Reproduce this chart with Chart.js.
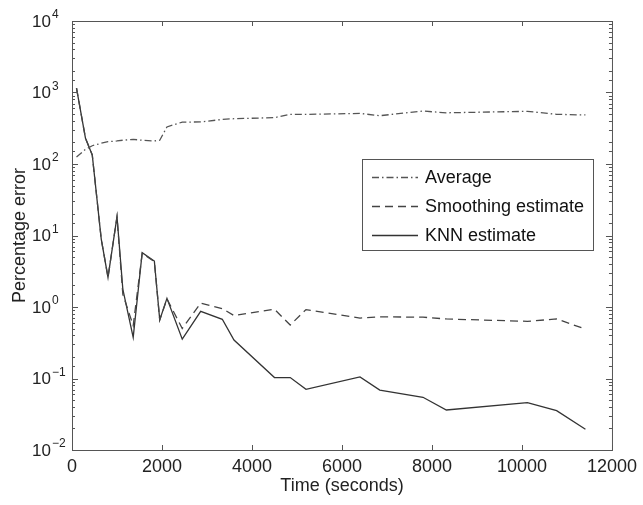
<!DOCTYPE html>
<html>
<head>
<meta charset="utf-8">
<script src="https://cdn.jsdelivr.net/npm/chart.js@4.4.1/dist/chart.umd.min.js"></script>
<style>
  html, body { margin: 0; padding: 0; background: #fff; }
  #wrap { width: 643px; height: 505px; position: relative; }
</style>
</head>
<body>
<div id="wrap"><canvas id="chart"></canvas></div>
<script>
// Data
const timeSec = [100, 300, 450, 650, 800, 1000, 1130, 1360, 1560, 1830, 1950, 2110, 2450,
  2860, 3340, 3600, 4500, 4850, 5200, 6400, 6840, 7800, 8320, 10120, 10770, 11410];
const averageErr = [125, 160, 180, 195, 205, 210, 215, 221, 215, 210, 215, 330, 385,
  388, 420, 430, 445, 495, 495, 510, 474, 550, 520, 545, 495, 485];
const smoothingErr = [1150, 229, 134, 8.9, 2.6, 18.3, 1.5, 0.55, 5.6, 4.3, 0.66, 1.3, 0.5,
  1.13, 0.95, 0.76, 0.93, 0.56, 0.92, 0.7, 0.73, 0.72, 0.68, 0.63, 0.68, 0.49];
const knnErr = [1150, 229, 134, 8.9, 2.6, 18.3, 1.77, 0.377, 5.75, 4.4, 0.66, 1.32, 0.355,
  0.87, 0.673, 0.345, 0.103, 0.103, 0.0706, 0.105, 0.069, 0.0546, 0.0363, 0.0459, 0.0355, 0.0195];

const seriesLabels = ['Average', 'Smoothing estimate', 'KNN estimate'];
const xTickStep = 2000;
const yExponents = [-2, -1, 0, 1, 2, 3, 4];

const FONT = 'Liberation Sans, Arial, Helvetica, sans-serif';

const toPoints = (ys) => timeSec.map((x, i) => ({ x, y: ys[i] }));

// Draws the matlab-style frame: box, inward ticks, 10^n labels and the legend
const framePlugin = {
  id: 'matlabFrame',
  afterDraw(chart) {
    const { ctx, chartArea: a, scales } = chart;
    const xs = scales.x, ys = scales.y;
    ctx.save();
    ctx.strokeStyle = '#555';
    ctx.lineWidth = 1;
    ctx.strokeRect(a.left + 0.5, a.top + 0.5, a.right - a.left, a.bottom - a.top);

    // x ticks on bottom and top
    ctx.beginPath();
    xs.ticks.forEach((t) => {
      const px = Math.round(xs.getPixelForValue(t.value)) + 0.5;
      ctx.moveTo(px, a.bottom); ctx.lineTo(px, a.bottom - 5);
      ctx.moveTo(px, a.top); ctx.lineTo(px, a.top + 5);
    });
    // y ticks (major + minor) on left and right
    ys.ticks.forEach((t) => {
      const py = Math.round(ys.getPixelForValue(t.value)) + 0.5;
      const major = Math.abs(Math.log10(t.value) - Math.round(Math.log10(t.value))) < 1e-6;
      const len = major ? 6 : 3;
      ctx.moveTo(a.left, py); ctx.lineTo(a.left + len, py);
      ctx.moveTo(a.right, py); ctx.lineTo(a.right - len, py);
    });
    ctx.stroke();

    // y tick labels as 10 with superscript exponent
    ctx.fillStyle = '#222';
    yExponents.forEach((e) => {
      const py = ys.getPixelForValue(Math.pow(10, e));
      ctx.font = '17px ' + FONT;
      ctx.textAlign = 'right';
      ctx.textBaseline = 'middle';
      ctx.fillText('10', 51, py + 1);
      ctx.font = '12px ' + FONT;
      ctx.textAlign = 'left';
      ctx.textBaseline = 'alphabetic';
      ctx.fillText(e < 0 ? '\u2212' + Math.abs(e) : String(e), 52, py - 3);
    });

    // legend box
    const box = { left: 362, top: 159, right: 593, bottom: 250 };
    ctx.fillStyle = '#fff';
    ctx.fillRect(box.left, box.top, box.right - box.left, box.bottom - box.top);
    ctx.strokeStyle = '#555';
    ctx.strokeRect(box.left + 0.5, box.top + 0.5, box.right - box.left, box.bottom - box.top);
    chart.data.datasets.forEach((ds, i) => {
      const cy = 177 + i * 29;
      ctx.beginPath();
      ctx.setLineDash(ds.borderDash || []);
      ctx.strokeStyle = ds.borderColor;
      ctx.lineWidth = ds.borderWidth;
      ctx.moveTo(372, cy + 0.5); ctx.lineTo(418, cy + 0.5);
      ctx.stroke();
      ctx.setLineDash([]);
      ctx.fillStyle = '#111';
      ctx.font = '18px ' + FONT;
      ctx.textAlign = 'left';
      ctx.textBaseline = 'middle';
      ctx.fillText(ds.label, 425, cy + 1);
    });
    ctx.restore();
  }
};

new Chart(document.getElementById('chart'), {
  type: 'line',
  data: {
    datasets: [
      { label: seriesLabels[0], data: toPoints(averageErr), borderColor: '#555', borderWidth: 1.3, borderDash: [7, 3, 1.5, 3] },
      { label: seriesLabels[1], data: toPoints(smoothingErr), borderColor: '#444', borderWidth: 1.3, borderDash: [8, 5] },
      { label: seriesLabels[2], data: toPoints(knnErr), borderColor: '#333', borderWidth: 1.3 }
    ]
  },
  options: {
    responsive: true,
    maintainAspectRatio: false,
    animation: false,
    layout: { padding: { left: 0, top: 21, right: 28, bottom: 0 } },
    elements: { point: { radius: 0 }, line: { tension: 0 } },
    plugins: { legend: { display: false }, tooltip: { enabled: false } },
    scales: {
      x: {
        type: 'linear',
        min: 0,
        max: 12000,
        grid: { display: false, drawTicks: false },
        border: { display: false },
        ticks: {
          stepSize: xTickStep,
          color: '#222',
          font: { family: FONT, size: 18 },
          padding: 6,
          maxRotation: 0,
          callback: (v) => String(v)
        },
        title: { display: true, text: 'Time (seconds)', color: '#222', font: { family: FONT, size: 18 }, padding: { top: 0, bottom: 8 } },
        afterFit: (s) => { s.height = 55; }
      },
      y: {
        type: 'logarithmic',
        min: 0.01,
        max: 10000,
        grid: { display: false, drawTicks: false },
        border: { display: false },
        ticks: { display: false },
        title: { display: true, text: 'Percentage error', color: '#222', font: { family: FONT, size: 18 }, padding: { top: 9, bottom: 0 } },
        afterFit: (s) => { s.width = 72; }
      }
    }
  },
  plugins: [framePlugin]
});
</script>
</body>
</html>
